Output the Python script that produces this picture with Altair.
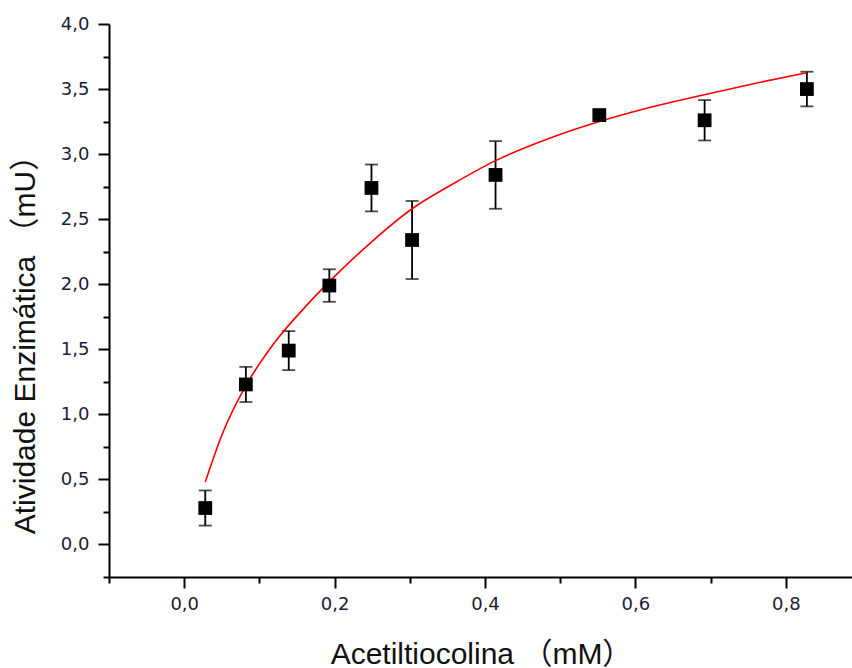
import altair as alt
import pandas as pd

# Substrate concentration (mM), mean enzymatic activity (mU) and its error
conc = [0.028, 0.082, 0.139, 0.193, 0.249, 0.303, 0.414, 0.552, 0.692, 0.828]
activity = [0.28, 1.23, 1.49, 1.99, 2.74, 2.34, 2.84, 3.30, 3.26, 3.50]
err = [0.135, 0.135, 0.15, 0.125, 0.18, 0.30, 0.26, 0.03, 0.155, 0.133]

# Fitted saturation curve, sampled along its length
fit_x = [0.028, 0.05, 0.082, 0.12, 0.16, 0.193, 0.25, 0.303, 0.36, 0.414,
         0.485, 0.552, 0.62, 0.69, 0.76, 0.828]
fit_y = [0.48, 0.84, 1.22, 1.55, 1.82, 2.02, 2.33, 2.58, 2.78, 2.95,
         3.12, 3.25, 3.36, 3.455, 3.545, 3.625]

# Axis tick positions
x_major = [0.0, 0.2, 0.4, 0.6, 0.8]
x_minor = [-0.1, 0.1, 0.3, 0.5, 0.7]
y_major = [0.0, 0.5, 1.0, 1.5, 2.0, 2.5, 3.0, 3.5, 4.0]
y_minor = [-0.25, 0.25, 0.75, 1.25, 1.75, 2.25, 2.75, 3.25, 3.75]

pts = pd.DataFrame({"x": conc, "y": activity, "e": err})
pts["lo"] = pts["y"] - pts["e"]
pts["hi"] = pts["y"] + pts["e"]
fit = pd.DataFrame({"x": fit_x, "y": fit_y})
minor_x = pd.DataFrame({"x": x_minor})
minor_y = pd.DataFrame({"y": y_minor})

TITLE_FONT = "Liberation Sans, Arial, Noto Sans CJK SC"
LABEL_FONT = "DejaVu Sans"
xs = alt.Scale(domain=[-0.1, 0.888], nice=False, zero=False)
ys = alt.Scale(domain=[-0.25, 4.0], nice=False, zero=False)
comma = "replace(format(datum.value, '.1f'), '.', ',')"

axis_common = dict(
    domainColor="black", domainWidth=2, tickColor="black", tickWidth=2,
    tickSize=11, labelFont=LABEL_FONT, labelFontSize=18, labelFontWeight="normal",
    labelColor="#1c1c36",
    titleFont=TITLE_FONT, titleFontWeight="normal", titleColor="#111111",
    titleFontSize=30, grid=False, labelExpr=comma,
)
minor_axis = dict(
    title=None, labels=False, domain=False, ticks=True,
    tickSize=6, tickWidth=2, tickColor="black", grid=False,
)

curve = alt.Chart(fit).mark_line(color="#ff0000", strokeWidth=1.6, interpolate="monotone").encode(
    x=alt.X("x:Q", scale=xs, axis=alt.Axis(
        values=x_major, orient="bottom", title="Acetiltiocolina （mM）",
        titleX=372, titleY=86, titleBaseline="alphabetic",
        labelPadding=7, **axis_common)),
    y=alt.Y("y:Q", scale=ys, axis=alt.Axis(
        values=y_major, orient="left", title="Atividade Enzimática （mU）",
        titleAngle=-90, titleX=-84, titleY=313,
        titleBaseline="middle", titleAlign="center",
        labelPadding=9, labelBaseline="middle", **axis_common)),
)

minor_ticks_x = alt.Chart(minor_x).mark_point(opacity=0).encode(
    x=alt.X("x:Q", scale=xs, axis=alt.Axis(values=x_minor, orient="bottom", **minor_axis)),
)
minor_ticks_y = alt.Chart(minor_y).mark_point(opacity=0).encode(
    y=alt.Y("y:Q", scale=ys, axis=alt.Axis(values=y_minor, orient="left", **minor_axis)),
)

bars = alt.Chart(pts).mark_rule(color="black", strokeWidth=1.8).encode(
    x=alt.X("x:Q", scale=xs, axis=None),
    y=alt.Y("lo:Q", scale=ys, axis=None),
    y2="hi:Q",
)
cap_lo = alt.Chart(pts).mark_tick(color="black", orient="horizontal", size=13, thickness=1.8).encode(
    x=alt.X("x:Q", scale=xs, axis=None),
    y=alt.Y("lo:Q", scale=ys, axis=None),
)
cap_hi = alt.Chart(pts).mark_tick(color="black", orient="horizontal", size=13, thickness=1.8).encode(
    x=alt.X("x:Q", scale=xs, axis=None),
    y=alt.Y("hi:Q", scale=ys, axis=None),
)
squares = alt.Chart(pts).mark_square(size=190, color="black", opacity=1, filled=True).encode(
    x=alt.X("x:Q", scale=xs, axis=None),
    y=alt.Y("y:Q", scale=ys, axis=None),
)

chart = (
    alt.layer(minor_ticks_x, minor_ticks_y, bars, cap_lo, cap_hi, curve, squares)
    .resolve_axis(x="independent", y="independent")
    .properties(
        width=743, height=553,
        autosize=alt.AutoSizeParams(type="none"),
        padding={"left": 109, "top": 24, "right": 0, "bottom": 91},
        background="white",
    )
    .configure_view(stroke=None)
)

chart.save("out.html", embed_options={"renderer": "svg", "actions": False})
